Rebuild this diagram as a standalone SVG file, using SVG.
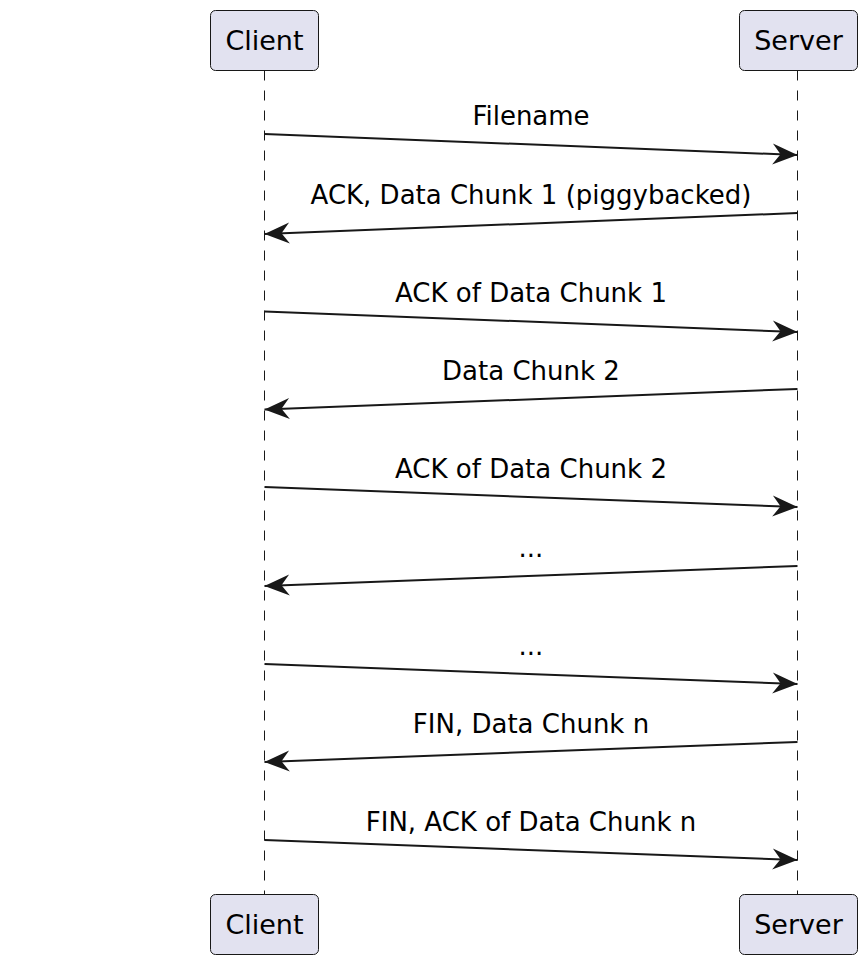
<svg xmlns="http://www.w3.org/2000/svg" width="868" height="965" viewBox="0 0 868 965">
<style>
.box{fill:#E2E2F0;stroke:#181818;stroke-width:1}
.pt{font-family:"DejaVu Sans",sans-serif;font-size:27px;fill:#000;text-anchor:middle}
.life{stroke:#181818;stroke-width:1;stroke-dasharray:10,10;fill:none}
.msg{stroke:#181818;stroke-width:2;fill:none;marker-end:url(#ah)}
.lbl{font-family:"DejaVu Sans",sans-serif;font-size:26px;fill:#000;text-anchor:middle}
</style>
<defs>
<marker id="ah" markerUnits="userSpaceOnUse" viewBox="0 0 26 22" refX="25" refY="11" markerWidth="26" markerHeight="22" orient="auto">
<path d="M0,0.5 L25,11 L0,21.5 L8,11 Z" fill="#181818"/>
</marker>
</defs>
<rect width="868" height="965" fill="#fff"/>
<g id="lifelines">
<line class="life" x1="264.5" y1="70.5" x2="264.5" y2="894.5"/>
<line class="life" x1="797.5" y1="70.5" x2="797.5" y2="894.5"/>
</g>
<g id="client-top"><rect class="box" x="210.5" y="10.5" width="108" height="60" rx="5"/><text class="pt" x="264.5" y="49.5">Client</text></g>
<g id="server-top"><rect class="box" x="739.5" y="10.5" width="118" height="60" rx="5"/><text class="pt" x="798.5" y="49.5">Server</text></g>
<g id="client-bottom"><rect class="box" x="210.5" y="894.5" width="108" height="60" rx="5"/><text class="pt" x="264.5" y="933.5">Client</text></g>
<g id="server-bottom"><rect class="box" x="739.5" y="894.5" width="118" height="60" rx="5"/><text class="pt" x="798.5" y="933.5">Server</text></g>
<g id="connectors">
<line class="msg" x1="264.5" y1="134" x2="797.5" y2="155"/>
<text class="lbl" x="531" y="125">Filename</text>
<line class="msg" x1="797.5" y1="213" x2="264.5" y2="234"/>
<text class="lbl" x="531" y="204">ACK, Data Chunk 1 (piggybacked)</text>
<line class="msg" x1="264.5" y1="311.5" x2="797.5" y2="332"/>
<text class="lbl" x="531" y="302">ACK of Data Chunk 1</text>
<line class="msg" x1="797.5" y1="389" x2="264.5" y2="409.5"/>
<text class="lbl" x="531" y="380">Data Chunk 2</text>
<line class="msg" x1="264.5" y1="487" x2="797.5" y2="507"/>
<text class="lbl" x="531" y="478">ACK of Data Chunk 2</text>
<line class="msg" x1="797.5" y1="566" x2="264.5" y2="586"/>
<text class="lbl" x="531" y="557">...</text>
<line class="msg" x1="264.5" y1="664" x2="797.5" y2="684"/>
<text class="lbl" x="531" y="655">...</text>
<line class="msg" x1="797.5" y1="742" x2="264.5" y2="762"/>
<text class="lbl" x="531" y="733">FIN, Data Chunk n</text>
<line class="msg" x1="264.5" y1="840" x2="797.5" y2="860"/>
<text class="lbl" x="531" y="831">FIN, ACK of Data Chunk n</text>
</g>
</svg>
